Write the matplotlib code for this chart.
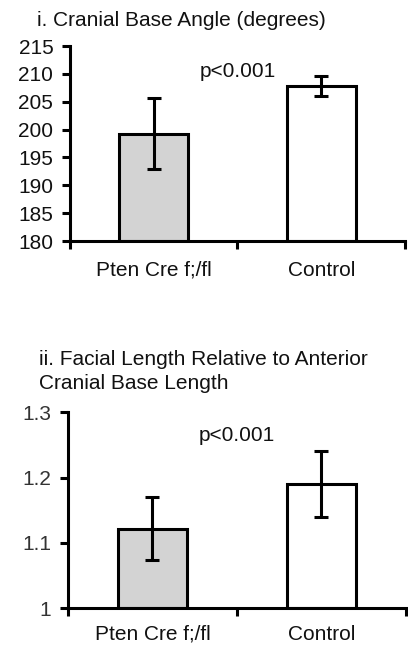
import matplotlib
matplotlib.use("Agg")
import matplotlib.pyplot as plt

plt.rcParams['font.family'] = ['Liberation Sans', 'DejaVu Sans']

# data
groups = ['Pten Cre f;/fl', 'Control']
bar_colors = ['#d3d3d3', 'white']

angle_means = [199.3, 207.9]
angle_err = [6.4, 1.8]
angle_ticks = [180, 185, 190, 195, 200, 205, 210, 215]

ratio_means = [1.122, 1.190]
ratio_err = [0.048, 0.051]
ratio_ticks = [1.0, 1.1, 1.2, 1.3]
ratio_ticklabels = ['1', '1.1', '1.2', '1.3']

p_text = 'p<0.001'

fig = plt.figure(figsize=(4.08, 6.48), dpi=100)


def draw_panel(ax, means, errs, ylim, yticks, yticklabels, p_y, tick_fs,
               tick_color, xpad):
    x = range(len(groups))
    ax.bar(x, [m - ylim[0] for m in means], bottom=ylim[0], width=0.41,
           color=bar_colors, edgecolor='black', linewidth=2.2, zorder=2)
    ax.errorbar(x, means, yerr=errs, fmt='none', ecolor='black',
                elinewidth=2.2, capsize=5, capthick=2.2, zorder=3)
    ax.set_xlim(-0.5, 1.5)
    ax.set_ylim(*ylim)
    ax.set_yticks(yticks)
    ax.set_yticklabels(yticklabels, fontsize=tick_fs, color=tick_color)
    # boundary ticks on x axis, labels centred under bars
    ax.set_xticks([-0.5, 0.5, 1.5])
    ax.set_xticklabels([])
    ax.set_xticks(list(x), minor=True)
    ax.set_xticklabels(groups, minor=True, fontsize=15, color='#111111')
    ax.tick_params(axis='x', which='minor', length=0, pad=xpad)
    ax.tick_params(axis='both', which='major', width=2.2, length=6,
                   direction='out')
    ax.tick_params(axis='y', pad=6)
    for s in ['top', 'right']:
        ax.spines[s].set_visible(False)
    for s in ['left', 'bottom']:
        ax.spines[s].set_linewidth(2.2)
    ax.text(0.5, p_y, p_text, ha='center', va='center', fontsize=15,
            color='#111111')


ax1 = fig.add_axes([0.1716, 0.628, 0.821, 0.301])
draw_panel(ax1, angle_means, angle_err, (180, 215), angle_ticks,
           [str(t) for t in angle_ticks], 210.5, 15, '#111111', 14)
fig.text(0.091, 0.969, 'i. Cranial Base Angle (degrees)', fontsize=15,
         va='center', ha='left', color='#111111')

ax2 = fig.add_axes([0.1667, 0.0613, 0.828, 0.3024])
draw_panel(ax2, ratio_means, ratio_err, (1.0, 1.3), ratio_ticks,
           ratio_ticklabels, 1.265, 15, '#333333', 12)
fig.text(0.096, 0.4265, 'ii. Facial Length Relative to Anterior\nCranial Base Length',
         fontsize=15, va='center', ha='left', linespacing=1.32, color='#111111')

fig.savefig('out.png', dpi=100)
